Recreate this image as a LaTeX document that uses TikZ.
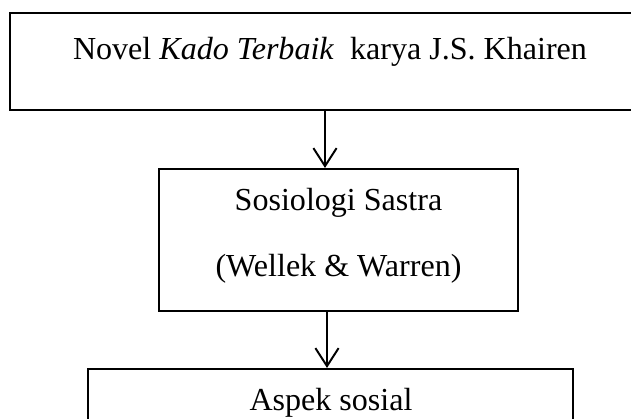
\documentclass[tikz,border=0pt]{standalone}
\usepackage{fontspec}
\setmainfont{Liberation Serif}
\usetikzlibrary{arrows.meta}
\tikzset{
  kotak/.style={draw, line width=1.5pt, inner sep=0pt},
  teks/.style={font=\fontsize{22.8}{27}\selectfont, inner sep=0pt, anchor=base},
  panah/.style={-{Straight Barb[length=0.45cm,width=0.58cm]}, line width=1.4pt}
}
\begin{document}
\begin{tikzpicture}[x=0.025cm, y=-0.025cm]
      \clip (0,0) rectangle (631,419);
      % kotak novel
      \node[kotak, minimum width=16.75cm, minimum height=2.425cm] (novel) at (345,61.5) {};
      \node[teks] (judul) at (330,60) {Novel \textit{Kado Terbaik}\ \ karya J.S. Khairen};
      % kotak sosiologi sastra
      \node[kotak, minimum width=8.975cm, minimum height=3.55cm] (sastra) at (338.5,240) {};
      \node[teks] (teori) at (338.5,211) {Sosiologi Sastra};
      \node[teks] (tokoh) at (338.5,277) {(Wellek \& Warren)};
      % kotak aspek sosial
      \node[kotak, minimum width=12.125cm, minimum height=2.5cm] (aspek) at (330.5,419) {};
      \node[teks] (sosial) at (331,410) {Aspek sosial};
      % panah
      \draw[panah] (novel.south -| 325,0) -- (sastra.north -| 325,0);
      \draw[panah] (sastra.south -| 327,0) -- (aspek.north -| 327,0);
\end{tikzpicture}
\end{document}
